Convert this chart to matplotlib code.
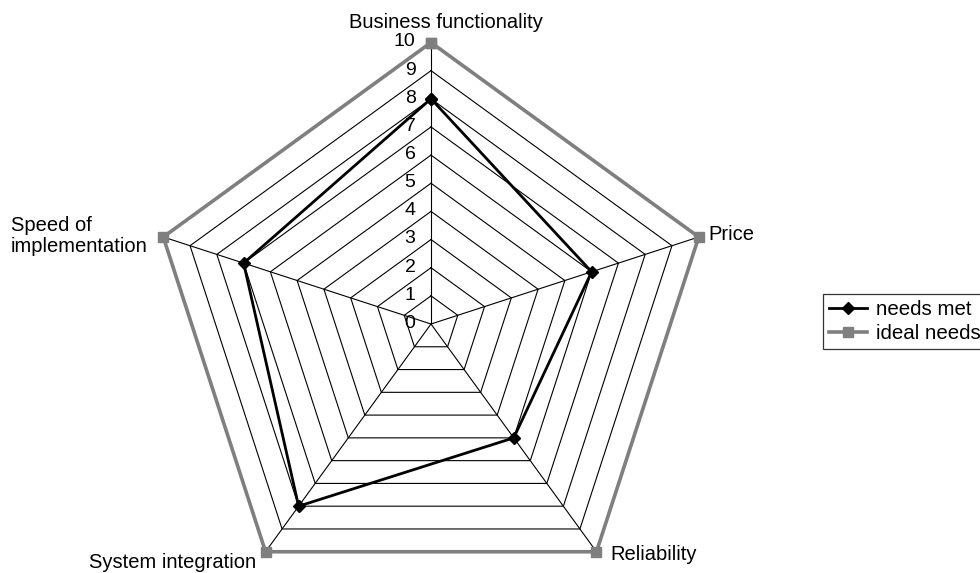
import numpy as np
import matplotlib.pyplot as plt
from matplotlib.lines import Line2D

plt.rcParams['font.family'] = ['Liberation Sans', 'DejaVu Sans']

categories = ['Business functionality', 'Price', 'Reliability', 'System integration', 'Speed of\nimplementation']
needs_met = [8, 6, 5, 8, 7]
ideal_needs = [10, 10, 10, 10, 10]
ticks = list(range(0, 11))

# geometry in pixels
W, H = 980, 573
cx, cy = 431, 324
R = 281.5  # pixels for value 10
scale = R / 10.0

fig = plt.figure(figsize=(W / 100, H / 100), dpi=100)
ax = fig.add_axes([0, 0, 1, 1])
ax.set_xlim(-cx / scale, (W - cx) / scale)
ax.set_ylim(-(H - cy) / scale, cy / scale)
ax.axis('off')

n = len(categories)
angles = np.pi / 2 - np.arange(n) * 2 * np.pi / n


def xy(vals):
    vals = np.asarray(vals, dtype=float)
    x = vals * np.cos(angles)
    y = vals * np.sin(angles)
    return np.append(x, x[0]), np.append(y, y[0])


# grid polygons
for t in ticks[1:]:
    gx, gy = xy([t] * n)
    ax.plot(gx, gy, color='black', lw=0.8, zorder=1)
# spokes
for a in angles:
    ax.plot([0, 10 * np.cos(a)], [0, 10 * np.sin(a)], color='black', lw=0.8, zorder=1)

# tick labels
for t in ticks:
    ax.text(-0.55, t + 0.02, str(t), ha='right', va='center', fontsize=14, zorder=3)

ix, iy = xy(ideal_needs)
ax.plot(ix, iy, color='#7f7f7f', lw=2.6, marker='s', markersize=7, zorder=2)
nx, ny = xy(needs_met)
ax.plot(nx, ny, color='black', lw=2.0, marker='D', markersize=6, zorder=4)


# category labels (pixel positions)
def px(x, y):
    return (x - cx) / scale, (cy - y) / scale


lab_fs = 14.5
ax.text(*px(446, 22), categories[0], ha='center', va='center', fontsize=lab_fs)
ax.text(*px(708, 234), categories[1], ha='left', va='center', fontsize=lab_fs)
ax.text(*px(610, 554), categories[2], ha='left', va='center', fontsize=lab_fs)
ax.text(*px(256, 563), categories[3], ha='right', va='center', fontsize=lab_fs)
ax.text(*px(11, 236), categories[4], ha='left', va='center', fontsize=lab_fs, linespacing=1.15)

handles = [
    Line2D([], [], color='black', lw=2.0, marker='D', markersize=6),
    Line2D([], [], color='#7f7f7f', lw=2.6, marker='s', markersize=7),
]
leg = fig.legend(handles, ['needs met', 'ideal needs'], loc='upper left',
                 bbox_to_anchor=(823 / W, 1 - 294 / H), fontsize=14.8,
                 frameon=True, fancybox=False, borderpad=0.3, labelspacing=0.25,
                 handlelength=1.85, handletextpad=0.45, borderaxespad=0)
leg.get_frame().set_edgecolor('black')
leg.get_frame().set_linewidth(0.9)

fig.savefig('out.png', dpi=100)
